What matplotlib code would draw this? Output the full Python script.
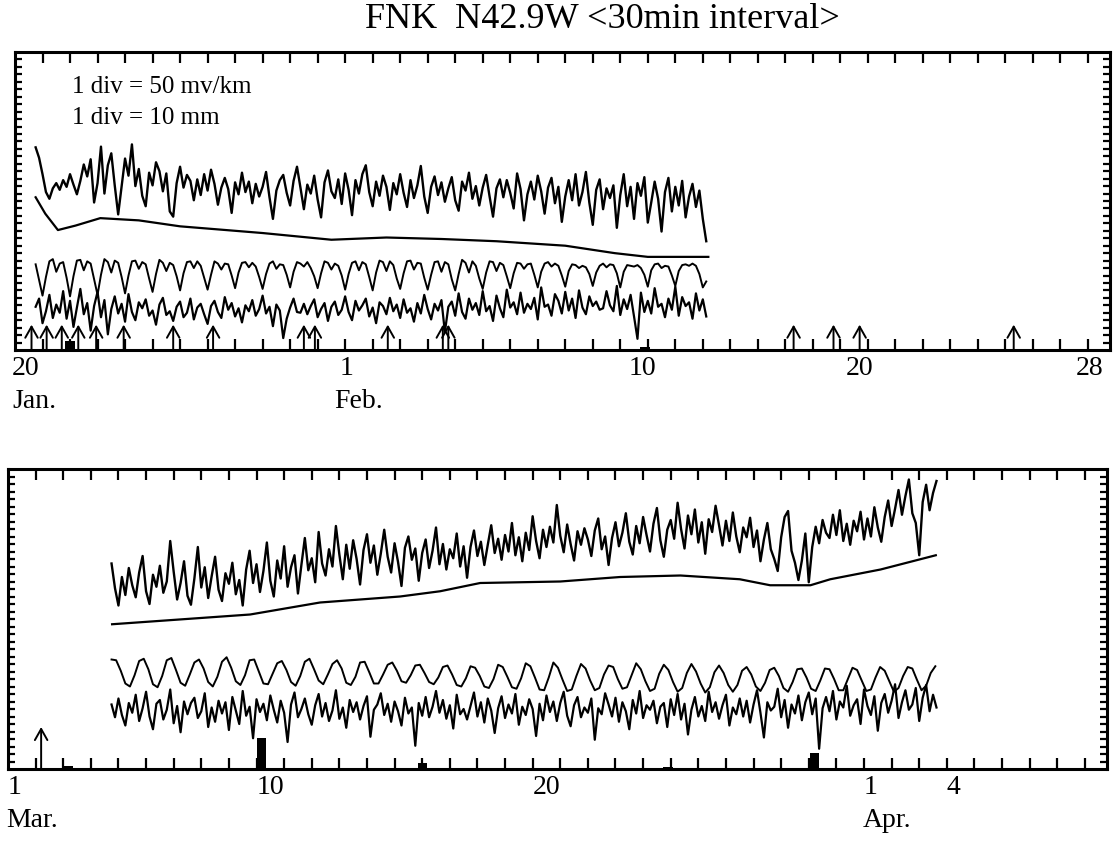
import numpy as np
import matplotlib
matplotlib.use("Agg")
import matplotlib.pyplot as plt
from matplotlib.transforms import blended_transform_factory

plt.rcParams["font.family"] = ["Liberation Serif", "DejaVu Serif"]

# ---- upper panel: 20 Jan (day 0) .. 28 Feb, values in divisions ----
STEP = 0.125
jan_start = 0.75
jan_field = [
    27.2, 25.8, 23.6, 21.2, 20.3, 21.7, 22.4, 21.5,
    22.8, 21.9, 23.6, 22.2, 20.9, 22.7, 24.9, 23.3,
    25.6, 19.8, 22.4, 27.3, 21.0, 24.8, 26.4, 22.1,
    18.2, 21.9, 25.7, 23.4, 27.6, 22.0, 24.3, 20.7,
    19.3, 23.8, 22.1, 25.2, 24.0, 21.3, 23.7, 18.6,
    17.9, 22.4, 24.6, 21.8, 23.5, 22.7, 20.1, 22.9,
    20.8, 23.6, 21.4, 24.2, 22.3, 19.5, 21.8, 23.1,
    21.6, 18.4, 22.5, 20.9, 23.8, 21.2, 22.6, 19.7,
    22.3, 20.6, 21.9, 23.9, 20.5, 17.6, 21.4, 22.8,
    23.5, 21.1, 19.4, 22.7, 24.6, 21.8, 18.9, 22.2,
    21.0, 23.4, 20.2, 17.8, 22.5, 24.1, 21.3, 20.4,
    22.9, 19.6, 23.7, 21.5, 18.1, 22.8, 21.0, 23.6,
    24.8, 21.2, 19.3, 22.6, 20.7, 23.4, 21.9, 18.8,
    22.4, 20.9, 23.6, 21.1, 19.2, 22.8, 20.4, 22.1,
    24.7, 20.6, 18.4, 21.9, 23.3, 20.8, 22.5, 19.9,
    21.7, 23.2, 20.1, 18.7, 22.6, 21.4, 23.8, 20.3,
    22.0, 19.4, 21.8, 23.5, 20.6, 17.9, 21.7, 22.9,
    20.5, 22.8, 21.1, 19.0, 23.7, 21.6, 17.4, 20.9,
    22.6, 20.2, 23.4, 21.3, 18.3, 21.8, 23.1, 19.7,
    21.9, 17.2, 20.6, 22.8, 20.1, 23.6, 19.4, 21.2,
    23.9, 19.8, 16.8, 21.5, 22.9, 18.9, 21.7, 20.4,
    22.1, 16.4, 20.8, 23.6, 19.3, 21.9, 17.6, 22.4,
    20.7, 23.2, 17.1, 19.8, 22.6, 20.3, 15.9, 21.2,
    23.1, 18.6, 21.9, 19.4, 22.7, 17.8, 20.6, 22.3,
    19.2, 21.4, 17.6, 14.6,
]
jan_trend_days = [0.75, 1.1, 1.56, 2.2, 3.1, 4.5, 6.0, 9.0, 11.5, 13.5, 15.5, 17.5, 20.0, 21.8, 23.0, 25.2]
jan_trend = [20.5, 18.3, 16.1, 16.7, 17.7, 17.4, 16.6, 15.7, 14.8, 15.1, 14.9, 14.6, 14.0, 13.0, 12.5, 12.5]
jan_tide = [
    11.5, 9.4,
    7.3, 9.8, 11.9, 12.2, 10.5, 11.6, 11.8, 9.7,
    7.2, 9.9, 12.0, 12.1, 10.7, 11.9, 11.6, 9.5,
    7.4, 10.1, 12.2, 11.8, 10.4, 12.0, 11.7, 9.8,
    7.6, 10.0, 11.9, 12.0, 10.9, 11.8, 11.5, 9.6,
    7.8, 10.2, 12.1, 11.7, 10.6, 11.7, 11.4, 9.9,
    8.0, 10.3, 11.8, 11.9, 11.0, 11.9, 11.3, 9.7,
    8.1, 10.1, 11.9, 11.6, 10.8, 11.6, 11.5, 10.0,
    8.3, 10.4, 11.7, 11.8, 11.1, 11.7, 11.2, 9.8,
    8.2, 10.2, 11.6, 11.9, 10.9, 11.5, 11.4, 10.1,
    8.4, 10.5, 11.8, 11.6, 11.2, 11.8, 11.0, 9.9,
    8.3, 10.3, 11.9, 11.7, 10.8, 11.6, 11.3, 10.0,
    8.1, 10.2, 11.7, 11.9, 10.7, 11.8, 11.5, 9.8,
    8.0, 10.4, 12.0, 11.8, 10.6, 11.9, 11.4, 9.6,
    8.2, 10.3, 11.9, 12.0, 10.8, 11.7, 11.6, 9.7,
    8.1, 10.1, 11.8, 11.9, 10.5, 11.8, 11.5, 9.5,
    8.0, 10.2, 12.1, 11.7, 10.4, 11.9, 11.3, 9.6,
    8.2, 10.4, 11.9, 11.8, 10.6, 11.7, 11.4, 9.9,
    8.3, 10.3, 11.7, 11.6, 10.9, 11.5, 11.6, 10.1,
    8.4, 10.5, 11.6, 11.8, 11.2, 11.6, 11.3, 10.0,
    8.5, 10.6, 11.5, 11.4, 11.0, 11.3, 11.1, 10.2,
    8.6, 10.4, 11.3, 11.6, 11.1, 11.5, 11.4, 10.3,
    8.4, 10.5, 11.4, 11.3, 11.2, 11.4, 11.0, 10.1,
    8.5, 10.7, 11.5, 11.6, 11.0, 11.3, 11.2, 10.0,
    8.6, 10.6, 11.4, 11.5, 11.3, 11.6, 11.3, 10.2,
    8.4, 9.2,
]
jan_strain = [
    5.8, 6.9, 3.6, 5.2, 7.4, 4.3, 6.1, 5.0,
    7.9, 4.2, 6.6, 3.1, 5.7, 8.2, 4.8, 6.3,
    2.6, 5.9, 7.8, 4.4, 6.7, 2.1, 5.5, 7.2,
    4.9, 6.2, 3.8, 7.5, 5.1, 4.0, 6.4, 5.6,
    6.8, 4.6, 5.3, 3.4, 6.1, 7.0, 4.7, 5.2,
    3.9, 5.8, 6.5, 4.4, 5.0, 6.9, 4.1, 5.7,
    6.2, 4.8, 3.5, 5.9, 6.6, 5.1, 4.3, 7.1,
    5.4, 6.3, 4.5, 5.6, 3.7, 6.0, 5.2, 6.7,
    4.6, 5.5, 7.3, 4.9, 5.8, 3.2, 6.1, 5.3,
    1.6, 4.2, 5.7, 6.9, 5.1, 5.0, 6.2, 4.8,
    5.9, 6.8, 4.4, 5.5, 6.3, 3.9, 5.8, 6.5,
    4.7, 5.4, 7.2, 5.1, 4.0, 6.6, 5.3, 6.0,
    6.9, 4.5, 5.7, 3.6, 6.4, 5.9, 4.8, 7.0,
    5.2, 6.1, 4.3, 6.8, 5.0, 5.6, 3.8, 6.3,
    4.9, 7.4, 5.5, 4.1, 6.2, 5.3, 6.7, 2.4,
    5.8, 6.5, 4.6, 7.6, 5.1, 4.2, 6.9, 5.4,
    6.3, 4.7, 7.9, 5.2, 5.9, 3.9, 7.3, 5.6,
    4.4, 8.1, 5.7, 6.4, 4.8, 7.7, 5.0, 6.2,
    5.5, 7.0, 4.1, 8.4, 5.8, 6.1, 4.6, 7.5,
    6.6, 4.9, 7.8, 5.3, 6.9, 4.3, 8.0, 5.7,
    4.8, 7.2, 5.9, 6.5, 5.4, 5.6, 7.9, 6.0,
    5.2, 8.6, 4.7, 6.8, 5.5, 7.4, 4.5, 1.5,
    7.7, 5.1, 6.6, 4.9, 8.3, 5.8, 6.2, 4.4,
    6.9, 5.4, 8.5, 4.6, 7.1, 5.9, 6.4, 4.2,
    7.6, 5.3, 6.8, 4.5,
]
jan_quakes = [0.6, 1.15, 1.7, 2.3, 2.95, 3.95, 5.75, 7.2, 10.5, 10.9, 13.55,
              15.55, 15.75, 28.3, 29.75, 30.7, 36.3]
jan_rain_days = [2.0, 22.9]
jan_rain = [1.2, 0.4]

# ---- lower panel: 1 Mar (day 0) .. early Apr ----
mar_start = 3.75
mar_field = [
    27.4, 24.1, 21.8, 25.6, 23.2, 26.8, 24.5, 22.9,
    26.2, 28.4, 23.7, 22.0, 25.9, 24.3, 27.1, 23.5,
    25.0, 30.4, 26.3, 22.6, 24.8, 27.7, 23.1, 21.9,
    25.4, 29.6, 24.2, 26.9, 22.8, 25.7, 28.3, 23.9,
    22.4, 26.1, 24.7, 27.5, 23.3, 25.2, 21.8, 26.6,
    29.1, 24.8, 27.3, 23.6, 26.4, 30.2, 25.1, 23.0,
    27.8, 25.4, 29.7, 24.3, 26.9, 28.5, 23.4, 27.2,
    30.8, 26.5, 28.1, 24.9, 31.6, 27.4, 25.8, 29.3,
    27.0, 32.4, 28.6, 25.3, 29.9, 26.7, 30.5, 28.0,
    24.6, 29.2, 31.3, 27.5, 29.8, 25.9, 28.7, 31.9,
    28.3, 26.2, 30.1, 27.6, 24.4, 29.5, 31.0, 27.9,
    29.4, 25.1, 28.8, 30.6, 26.8, 29.1, 32.2, 27.3,
    30.0, 26.6, 29.3, 28.1, 31.4, 27.0, 29.7, 25.5,
    29.6, 31.8, 28.4, 30.3, 27.2, 29.9, 32.5, 28.8,
    30.7, 27.9, 31.2, 29.0, 32.8, 28.5, 30.9, 27.7,
    31.5, 29.2, 33.7, 30.4, 28.1, 31.9, 29.6, 32.3,
    30.2, 35.2, 31.1, 28.9, 32.6, 30.0, 27.8, 31.7,
    29.9, 32.1, 30.6, 28.4, 31.8, 33.4, 29.3, 31.0,
    27.2, 30.8, 32.9, 29.7, 31.5, 34.1, 30.3, 28.6,
    32.4, 30.1, 33.6, 31.2, 29.0, 32.7, 34.8, 30.5,
    28.3, 31.9, 33.2, 30.7, 35.5, 32.0, 29.4, 33.8,
    31.3, 34.6, 30.2, 32.9, 28.7, 33.3, 31.6, 35.1,
    32.5, 29.8, 33.1, 30.4, 34.2, 31.0, 28.9, 32.2,
    30.9, 33.5, 29.6, 31.8, 27.7, 30.6, 32.8, 29.3,
    28.0, 26.4, 30.9, 33.6, 34.4, 29.1, 27.5, 25.2,
    27.8, 31.4, 24.9, 29.6, 32.3, 30.1, 33.2, 31.5,
    30.8, 33.9, 31.2, 34.5, 30.4, 32.7, 29.9, 33.1,
    31.7, 34.3, 30.6, 33.4, 31.0, 34.9, 32.2, 30.3,
    33.6, 35.8, 32.4, 34.7, 37.2, 33.9, 36.4, 38.6,
    34.1, 32.8, 28.5, 35.6, 37.9, 34.5, 36.8, 38.4,
]
mar_trend_days = [3.77, 8.77, 11.3, 14.2, 15.65, 17.1, 20.0, 22.17, 24.35, 26.5, 27.6, 29.06, 29.78, 31.6, 33.6]
mar_trend = [19.3, 20.6, 22.2, 23.0, 23.7, 24.8, 25.0, 25.6, 25.8, 25.3, 24.5, 24.5, 25.3, 26.6, 28.5]
TIDE_STEP = 1 / 6
mar_tide = [
    14.6, 14.5, 13.1, 11.4, 11.0, 12.5,
    14.4, 14.7, 13.3, 11.3, 10.9, 12.4,
    14.5, 14.8, 13.2, 11.5, 11.1, 12.6,
    14.2, 14.6, 13.4, 11.6, 11.0, 12.3,
    14.3, 14.9, 13.5, 11.7, 11.2, 12.5,
    14.5, 14.6, 13.0, 11.4, 11.3, 12.7,
    14.1, 14.4, 13.2, 11.6, 11.1, 12.4,
    14.3, 14.7, 13.3, 11.8, 11.3, 12.6,
    14.0, 14.5, 13.4, 11.5, 11.2, 12.3,
    14.2, 14.3, 12.9, 11.4, 11.4, 12.6,
    13.9, 14.2, 13.1, 11.7, 11.5, 12.5,
    13.8, 13.9, 12.8, 11.6, 11.3, 12.2,
    13.6, 13.8, 12.6, 11.2, 11.0, 12.1,
    13.7, 13.5, 12.4, 11.0, 10.8, 12.0,
    13.9, 13.6, 12.3, 10.9, 10.7, 12.1,
    14.1, 13.7, 12.2, 10.6, 10.5, 12.2,
    14.2, 13.5, 11.9, 10.4, 10.6, 12.4,
    14.0, 13.4, 11.8, 10.5, 10.8, 12.6,
    13.8, 13.6, 12.0, 10.7, 10.9, 12.5,
    14.1, 13.3, 11.7, 10.4, 10.7, 12.7,
    13.9, 13.2, 11.6, 10.3, 10.8, 12.8,
    14.0, 13.0, 11.4, 10.2, 10.9, 12.9,
    13.8, 12.8, 11.2, 10.3, 11.2, 13.1,
    13.6, 12.6, 11.0, 10.4, 11.5, 13.2,
    13.5, 12.4, 10.8, 10.3, 11.6, 13.3,
    13.4, 12.2, 10.7, 10.4, 11.8, 13.4,
    13.3, 12.0, 10.5, 10.5, 12.0, 13.5,
    13.2, 11.8, 10.4, 10.6, 12.2, 13.6,
    13.1, 11.7, 10.3, 10.8, 12.4, 13.6,
    13.4, 11.9, 10.5, 11.1, 12.8, 13.7,
]
mar_strain = [
    8.6, 6.9, 9.4, 7.2, 5.8, 8.8, 7.5, 9.9,
    6.4, 8.1, 10.3, 7.0, 5.3, 8.7, 9.2, 6.6,
    7.9, 10.6, 6.1, 8.4, 4.9, 9.0, 7.3, 8.8,
    9.5, 6.8, 7.7, 10.1, 5.6, 8.2, 6.3, 9.1,
    7.4, 8.9, 5.2, 9.6, 7.8, 6.0, 10.4, 7.1,
    8.3, 4.1, 9.3, 7.6, 8.7, 6.5, 9.8, 7.9,
    6.2, 9.1, 7.5, 3.6, 8.6, 10.2, 6.9, 8.0,
    9.4, 7.3, 5.9, 8.5, 10.0, 7.0, 8.8, 6.4,
    7.8, 10.5, 6.7, 8.2, 5.5, 9.2, 7.6, 8.9,
    6.6, 8.4, 9.7, 4.3, 7.9, 8.6, 10.1, 7.2,
    8.7, 6.3, 9.0, 7.7, 5.8, 9.5, 7.4, 8.2,
    3.1, 8.8, 7.1, 9.6, 6.9, 8.3, 10.4, 7.5,
    9.2, 6.7, 8.5, 5.4, 9.9, 7.3, 8.0, 6.6,
    8.4, 10.2, 7.0, 8.9, 6.2, 9.4, 7.8, 4.8,
    8.1, 9.7, 6.8, 8.6, 7.4, 10.0, 5.9, 8.3,
    7.2, 9.3, 8.0, 4.4, 8.7, 6.5, 9.8, 7.6,
    9.0, 6.4, 8.8, 10.3, 7.1, 5.7, 8.5, 9.6,
    6.9, 8.2, 7.5, 9.4, 3.9, 8.1, 7.3, 10.1,
    8.6, 7.0, 9.5, 6.3, 8.9, 7.7, 5.3, 9.2,
    7.4, 10.4, 6.8, 8.5, 7.9, 9.1, 6.1, 8.3,
    8.8, 5.6, 9.3, 7.2, 10.0, 6.6, 8.7, 4.6,
    7.9, 9.6, 7.0, 8.4, 6.4, 10.3, 7.6, 8.9,
    6.7, 8.5, 9.9, 5.8, 8.2, 7.3, 9.4, 7.0,
    9.1, 6.2, 8.6, 10.5, 7.5, 4.2, 8.9, 7.8,
    8.3, 10.7, 6.9, 9.2, 5.5, 8.6, 7.4, 9.8,
    6.5, 8.9, 10.2, 7.3, 9.4, 2.7, 8.1, 9.6,
    7.7, 10.4, 6.6, 9.0, 8.2, 11.1, 7.1, 8.5,
    9.3, 6.0, 10.6, 8.4, 7.2, 9.7, 5.1, 8.8,
    10.0, 7.5, 9.1, 11.3, 6.8, 8.9, 10.5, 7.9,
    8.6, 10.8, 6.4, 9.5, 11.2, 7.7, 9.9, 8.2,
]
mar_quakes = [1.2]
mar_rain_days = [2.2, 9.17, 15.0, 23.9, 29.2]
mar_rain = [0.4, 4.2, 0.8, 0.3, 2.2]

# tick labels: (day, text)
jan_numbers = [(-0.1, "20"), (11.8, "1"), (22.3, "10"), (30.2, "20"), (38.55, "28")]
jan_months = [(-0.1, "Jan."), (11.6, "Feb.")]
mar_numbers = [(0.0, "1"), (9.0, "10"), (19.0, "20"), (31.0, "1"), (34.0, "4")]
mar_months = [(-0.05, "Mar."), (30.95, "Apr.")]


def days_for(start, step, values):
    return start + step * np.arange(len(values))


def setup_panel(ax):
    ax.set_xlim(0, 39.8)
    ax.set_ylim(0, 40)
    ax.set_xticks(np.arange(1, 40))
    ax.set_yticks(np.arange(1, 40))
    ax.tick_params(axis="x", direction="in", length=8, width=1.6,
                   top=True, bottom=True, labelbottom=False)
    ax.tick_params(axis="y", direction="in", length=5, width=1.6,
                   left=True, right=True, labelleft=False)
    for spine in ax.spines.values():
        spine.set_linewidth(2.2)


def draw_quakes(ax, days, tip):
    for d in days:
        ax.annotate("", xy=(d, tip), xytext=(d, 0),
                    arrowprops=dict(arrowstyle="->,head_width=0.45,head_length=0.8",
                                    lw=1.4, color="black", shrinkA=0, shrinkB=0))


def draw_labels(ax, numbers, months):
    trans = blended_transform_factory(ax.transData, ax.transAxes)
    for d, txt in numbers:
        ax.text(d, -0.062, txt, transform=trans, ha="left", va="center", fontsize=20)
    for d, txt in months:
        ax.text(d, -0.172, txt, transform=trans, ha="left", va="center", fontsize=20)


fig = plt.figure(figsize=(11.16, 8.41), dpi=100)
ax1 = fig.add_axes([15 / 1116, 1 - 350 / 841, 1095 / 1116, 298 / 841])
ax2 = fig.add_axes([8 / 1116, 1 - 769 / 841, 1099 / 1116, 300 / 841])

for ax in (ax1, ax2):
    setup_panel(ax)

ax1.plot(days_for(jan_start, STEP, jan_field), jan_field, color="black", lw=1.7)
ax1.plot(jan_trend_days, jan_trend, color="black", lw=1.6)
ax1.plot(days_for(jan_start, STEP, jan_tide), jan_tide, color="black", lw=1.4)
ax1.plot(days_for(jan_start, STEP, jan_strain), jan_strain, color="black", lw=1.6)
ax1.bar(jan_rain_days, jan_rain, width=0.35, color="black")
draw_quakes(ax1, jan_quakes, 3.4)
draw_labels(ax1, jan_numbers, jan_months)

ax2.plot(days_for(mar_start, STEP, mar_field), mar_field, color="black", lw=1.7)
ax2.plot(mar_trend_days, mar_trend, color="black", lw=1.6)
ax2.plot(days_for(mar_start, TIDE_STEP, mar_tide), mar_tide, color="black", lw=1.4)
ax2.plot(days_for(mar_start, STEP, mar_strain), mar_strain, color="black", lw=1.6)
ax2.bar(mar_rain_days, mar_rain, width=0.33, color="black")
draw_quakes(ax2, mar_quakes, 5.6)
draw_labels(ax2, mar_numbers, mar_months)

fig.text(72 / 1116, 1 - 87 / 841, "1 div = 50 mv/km", ha="left", va="center", fontsize=18)
fig.text(72 / 1116, 1 - 118 / 841, "1 div = 10 mm", ha="left", va="center", fontsize=18)
fig.text(602 / 1116, 1 - 20 / 841, "FNK  N42.9W <30min interval>", ha="center", va="center", fontsize=26)

fig.savefig("out.png", dpi=100)
plt.close(fig)
